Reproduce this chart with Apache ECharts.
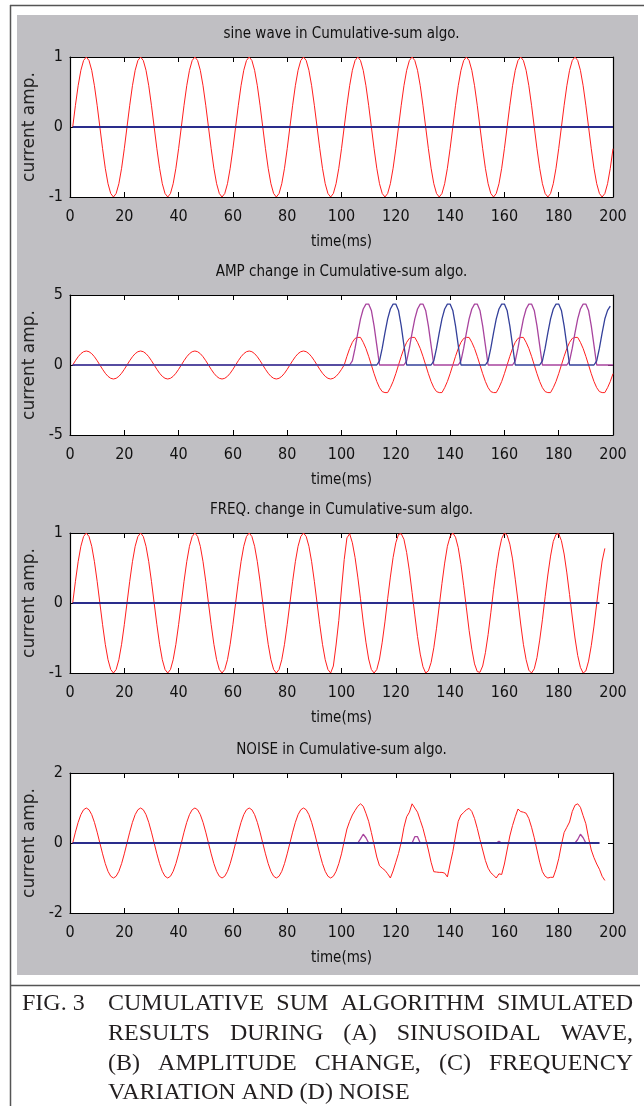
<!DOCTYPE html>
<html>
<head>
<meta charset="utf-8">
<script src="https://cdn.jsdelivr.net/npm/echarts@6/dist/echarts.min.js"></script>
<style>
  html, body { margin: 0; padding: 0; background: #fff; }
  #chart-container { width: 644px; height: 1106px; }
</style>
</head>
<body>
<div id="chart-container"></div>
<script>
// panel titles and axis setup
var panelTitles = [
  "sine wave in Cumulative-sum algo.",
  "AMP change in Cumulative-sum algo.",
  "FREQ. change in Cumulative-sum algo.",
  "NOISE in Cumulative-sum algo."
];
var xMin = 0, xMax = 200, xStep = 20;
var yMin = [-1, -5, -1, -2];
var yMax = [1, 5, 1, 2];
var yStep = [1, 5, 1, 2];
var xName = "time(ms)";
var yName = "current amp.";

// (a) sine wave, one sample per ms from t = 1
var sineRed = [
  0, 0.31, 0.59, 0.81, 0.95, 1, 0.95, 0.81, 0.59, 0.31, 0, -0.31, -0.59, -0.81, -0.95, -1, -0.95, -0.81, -0.59, -0.31,
  0, 0.31, 0.59, 0.81, 0.95, 1, 0.95, 0.81, 0.59, 0.31, 0, -0.31, -0.59, -0.81, -0.95, -1, -0.95, -0.81, -0.59, -0.31,
  0, 0.31, 0.59, 0.81, 0.95, 1, 0.95, 0.81, 0.59, 0.31, 0, -0.31, -0.59, -0.81, -0.95, -1, -0.95, -0.81, -0.59, -0.31,
  0, 0.31, 0.59, 0.81, 0.95, 1, 0.95, 0.81, 0.59, 0.31, 0, -0.31, -0.59, -0.81, -0.95, -1, -0.95, -0.81, -0.59, -0.31,
  0, 0.31, 0.59, 0.81, 0.95, 1, 0.95, 0.81, 0.59, 0.31, 0, -0.31, -0.59, -0.81, -0.95, -1, -0.95, -0.81, -0.59, -0.31,
  0, 0.31, 0.59, 0.81, 0.95, 1, 0.95, 0.81, 0.59, 0.31, 0, -0.31, -0.59, -0.81, -0.95, -1, -0.95, -0.81, -0.59, -0.31,
  0, 0.31, 0.59, 0.81, 0.95, 1, 0.95, 0.81, 0.59, 0.31, 0, -0.31, -0.59, -0.81, -0.95, -1, -0.95, -0.81, -0.59, -0.31,
  0, 0.31, 0.59, 0.81, 0.95, 1, 0.95, 0.81, 0.59, 0.31, 0, -0.31, -0.59, -0.81, -0.95, -1, -0.95, -0.81, -0.59, -0.31,
  0, 0.31, 0.59, 0.81, 0.95, 1, 0.95, 0.81, 0.59, 0.31, 0, -0.31, -0.59, -0.81, -0.95, -1, -0.95, -0.81, -0.59, -0.31,
  0, 0.31, 0.59, 0.81, 0.95, 1, 0.95, 0.81, 0.59, 0.31, 0, -0.31, -0.59, -0.81, -0.95, -1, -0.95, -0.81, -0.59, -0.31
];
var sineZero = [[1, 0], [200, 0]];

// (b) amplitude change
var ampRed = [
  0, 0.31, 0.59, 0.81, 0.95, 1, 0.95, 0.81, 0.59, 0.31, 0, -0.31, -0.59, -0.81, -0.95, -1, -0.95, -0.81, -0.59, -0.31,
  0, 0.31, 0.59, 0.81, 0.95, 1, 0.95, 0.81, 0.59, 0.31, 0, -0.31, -0.59, -0.81, -0.95, -1, -0.95, -0.81, -0.59, -0.31,
  0, 0.31, 0.59, 0.81, 0.95, 1, 0.95, 0.81, 0.59, 0.31, 0, -0.31, -0.59, -0.81, -0.95, -1, -0.95, -0.81, -0.59, -0.31,
  0, 0.31, 0.59, 0.81, 0.95, 1, 0.95, 0.81, 0.59, 0.31, 0, -0.31, -0.59, -0.81, -0.95, -1, -0.95, -0.81, -0.59, -0.31,
  0, 0.31, 0.59, 0.81, 0.95, 1, 0.95, 0.81, 0.59, 0.31, 0, -0.31, -0.59, -0.81, -0.95, -1, -0.95, -0.81, -0.59, -0.31,
  0, 0.62, 1.18, 1.62, 1.9, 1.97, 1.97, 1.62, 1.18, 0.62, 0, -0.62, -1.18, -1.62, -1.9, -1.97, -1.97, -1.62, -1.18, -0.62,
  0, 0.62, 1.18, 1.62, 1.9, 1.97, 1.97, 1.62, 1.18, 0.62, 0, -0.62, -1.18, -1.62, -1.9, -1.97, -1.97, -1.62, -1.18, -0.62,
  0, 0.62, 1.18, 1.62, 1.9, 1.97, 1.97, 1.62, 1.18, 0.62, 0, -0.62, -1.18, -1.62, -1.9, -1.97, -1.97, -1.62, -1.18, -0.62,
  0, 0.62, 1.18, 1.62, 1.9, 1.97, 1.97, 1.62, 1.18, 0.62, 0, -0.62, -1.18, -1.62, -1.9, -1.97, -1.97, -1.62, -1.18, -0.62,
  0, 0.62, 1.18, 1.62, 1.9, 1.97, 1.97, 1.62, 1.18, 0.62, 0, -0.62, -1.18, -1.62, -1.9, -1.97, -1.97, -1.62, -1.18, -0.62
];
var ampPos = [
  [1, 0], [103, 0], [104, 0.3], [105, 1.2], [106, 2.3], [107, 3.3], [108, 4], [109, 4.35], [110, 4.35], [111, 3.9], [112, 2.8], [113, 1.4], [114, 0],
  [123, 0], [124, 0.3], [125, 1.2], [126, 2.3], [127, 3.3], [128, 4], [129, 4.35], [130, 4.35], [131, 3.9], [132, 2.8], [133, 1.4], [134, 0],
  [143, 0], [144, 0.3], [145, 1.2], [146, 2.3], [147, 3.3], [148, 4], [149, 4.35], [150, 4.35], [151, 3.9], [152, 2.8], [153, 1.4], [154, 0],
  [163, 0], [164, 0.3], [165, 1.2], [166, 2.3], [167, 3.3], [168, 4], [169, 4.35], [170, 4.35], [171, 3.9], [172, 2.8], [173, 1.4], [174, 0],
  [183, 0], [184, 0.3], [185, 1.2], [186, 2.3], [187, 3.3], [188, 4], [189, 4.35], [190, 4.35], [191, 3.9], [192, 2.8], [193, 1.4], [194, 0],
  [200, 0]
];
var ampNeg = [
  [1, 0], [113, 0], [114, 0.3], [115, 1.2], [116, 2.3], [117, 3.3], [118, 4], [119, 4.35], [120, 4.35], [121, 3.9], [122, 2.8], [123, 1.4], [124, 0],
  [133, 0], [134, 0.3], [135, 1.2], [136, 2.3], [137, 3.3], [138, 4], [139, 4.35], [140, 4.35], [141, 3.9], [142, 2.8], [143, 1.4], [144, 0],
  [153, 0], [154, 0.3], [155, 1.2], [156, 2.3], [157, 3.3], [158, 4], [159, 4.35], [160, 4.35], [161, 3.9], [162, 2.8], [163, 1.4], [164, 0],
  [173, 0], [174, 0.3], [175, 1.2], [176, 2.3], [177, 3.3], [178, 4], [179, 4.35], [180, 4.35], [181, 3.9], [182, 2.8], [183, 1.4], [184, 0],
  [193, 0], [194, 0.3], [195, 1.2], [196, 2.3], [197, 3.3], [198, 3.9], [199, 4.2]
];

// (c) frequency change
var freqRed = [
  0, 0.31, 0.59, 0.81, 0.95, 1, 0.95, 0.81, 0.59, 0.31, 0, -0.31, -0.59, -0.81, -0.95, -1, -0.95, -0.81, -0.59, -0.31,
  0, 0.31, 0.59, 0.81, 0.95, 1, 0.95, 0.81, 0.59, 0.31, 0, -0.31, -0.59, -0.81, -0.95, -1, -0.95, -0.81, -0.59, -0.31,
  0, 0.31, 0.59, 0.81, 0.95, 1, 0.95, 0.81, 0.59, 0.31, 0, -0.31, -0.59, -0.81, -0.95, -1, -0.95, -0.81, -0.59, -0.31,
  0, 0.31, 0.59, 0.81, 0.95, 1, 0.95, 0.81, 0.59, 0.31, 0, -0.31, -0.59, -0.81, -0.95, -1, -0.95, -0.81, -0.59, -0.31,
  0, 0.31, 0.59, 0.81, 0.95, 1, 0.95, 0.81, 0.59, 0.31, 0, -0.31, -0.59, -0.81, -0.95, -1, -0.9, -0.6, -0.25,
  0.2, 0.62, 0.93, 0.99, 0.86, 0.65, 0.37, 0.06, -0.27, -0.56, -0.8, -0.95, -1, -0.95, -0.8, -0.56, -0.27, 0.06, 0.37, 0.65,
  0.86, 0.98, 0.99, 0.91, 0.72, 0.46, 0.15, -0.17, -0.48, -0.73, -0.91, -1, -0.97, -0.85, -0.64, -0.36, -0.04, 0.28, 0.57, 0.81,
  0.95, 1, 0.94, 0.79, 0.55, 0.25, -0.07, -0.39, -0.66, -0.87, -0.98, -0.99, -0.9, -0.71, -0.45, -0.14, 0.19, 0.49, 0.74, 0.92,
  1, 0.97, 0.84, 0.63, 0.34, 0.03, -0.3, -0.59, -0.81, -0.96, -1, -0.94, -0.78, -0.53, -0.24, 0.09, 0.4, 0.67, 0.88, 0.98,
  0.99, 0.89, 0.7, 0.43, 0.12, -0.2, -0.5, -0.75, -0.92, -1, -0.97, -0.83, -0.61, -0.33, -0.01, 0.31, 0.6, 0.78
];
var freqZero = [[1, 0], [195, 0]];

// (d) noise
var noiseRed = [
  0, 0.31, 0.59, 0.81, 0.95, 1, 0.95, 0.81, 0.59, 0.31, 0, -0.31, -0.59, -0.81, -0.95, -1, -0.95, -0.81, -0.59, -0.31,
  0, 0.31, 0.59, 0.81, 0.95, 1, 0.95, 0.81, 0.59, 0.31, 0, -0.31, -0.59, -0.81, -0.95, -1, -0.95, -0.81, -0.59, -0.31,
  0, 0.31, 0.59, 0.81, 0.95, 1, 0.95, 0.81, 0.59, 0.31, 0, -0.31, -0.59, -0.81, -0.95, -1, -0.95, -0.81, -0.59, -0.31,
  0, 0.31, 0.59, 0.81, 0.95, 1, 0.95, 0.81, 0.59, 0.31, 0, -0.31, -0.59, -0.81, -0.95, -1, -0.95, -0.81, -0.59, -0.31,
  0, 0.31, 0.59, 0.81, 0.95, 1, 0.95, 0.81, 0.59, 0.31, 0, -0.31, -0.59, -0.81, -0.95, -1, -0.95, -0.81, -0.59, -0.31,
  0.05, 0.4, 0.62, 0.8, 0.93, 1.05, 1.12, 1.05, 0.85, 0.62, 0.3, -0.05, -0.4, -0.65, -0.72, -0.78, -0.88, -1, -0.8, -0.55,
  -0.3, 0.02, 0.45, 0.75, 0.88, 1.12, 1, 0.88, 0.65, 0.42, 0.12, -0.2, -0.55, -0.82, -0.83, -0.84, -0.84, -0.86, -0.97, -0.6,
  -0.25, 0.2, 0.62, 0.8, 0.87, 0.95, 0.99, 0.9, 0.7, 0.42, 0.1, -0.2, -0.5, -0.72, -0.85, -0.92, -1, -0.88, -0.9, -0.6,
  -0.2, 0.2, 0.5, 0.75, 0.97, 0.9, 0.88, 0.85, 0.7, 0.45, 0.15, -0.2, -0.55, -0.82, -0.95, -1, -0.98, -0.98, -0.75, -0.45,
  -0.05, 0.3, 0.45, 0.6, 0.9, 1.08, 1.12, 1.02, 0.78, 0.55, 0.15, -0.2, -0.42, -0.6, -0.75, -0.95, -1.07
];
var noisePos = [
  [1, 0], [106, 0], [107, 0.12], [108, 0.25], [109, 0.15], [110, 0],
  [126, 0], [127, 0.18], [128, 0.18], [129, 0],
  [157, 0], [158, 0.05], [159, 0],
  [186, 0], [187, 0.1], [188, 0.25], [189, 0.15], [190, 0], [195, 0]
];
var noiseZero = [[1, 0], [195, 0]];

var captionLabel = "FIG. 3";
var captionLines = [
  "CUMULATIVE SUM ALGORITHM SIMULATED",
  "RESULTS DURING (A) SINUSOIDAL WAVE,",
  "(B) AMPLITUDE CHANGE, (C) FREQUENCY",
  "VARIATION AND (D) NOISE"
];

var RED = "#ff1f1f", NAVY = "#2a2d8c", PURPLE = "#a8449e", BLUE = "#34409a";
var narrow = "'Liberation Sans Narrow', 'Arial Narrow', 'DejaVu Sans Condensed', sans-serif";

var gridTops = [57, 295, 533, 773];
var plotLeft = 70, plotWidth = 543, plotHeight = 140;

function bySample(values) {
  return values.map(function (v, i) { return [i + 1, v]; });
}

var grids = [], xAxes = [], yAxes = [], graphics = [];

// grey figure background and frame
graphics.push({ type: "rect", z: -10, shape: { x: 17, y: 15, width: 621, height: 960 }, style: { fill: "#c0bfc3" } });
graphics.push({ type: "line", shape: { x1: 10.5, y1: 5, x2: 10.5, y2: 1106 }, style: { stroke: "#555", lineWidth: 1.5 } });
graphics.push({ type: "line", shape: { x1: 10, y1: 5.5, x2: 644, y2: 5.5 }, style: { stroke: "#555", lineWidth: 1.5 } });
graphics.push({ type: "line", shape: { x1: 10, y1: 985.5, x2: 640, y2: 985.5 }, style: { stroke: "#555", lineWidth: 1.5 } });

var tickStyle = { inside: true, length: 5, lineStyle: { color: "#000", width: 1 } };
var lineStyle = { onZero: false, lineStyle: { color: "#000", width: 1.2 } };

for (var i = 0; i < 4; i++) {
  grids.push({
    left: plotLeft, top: gridTops[i], width: plotWidth, height: plotHeight,
    show: true, backgroundColor: "#fff", borderWidth: 0, outerBoundsMode: "none"
  });
  xAxes.push({
    gridIndex: i, type: "value", min: xMin, max: xMax, interval: xStep,
    axisLine: lineStyle, axisTick: tickStyle, splitLine: { show: false },
    axisLabel: { margin: 12, fontSize: 16, color: "#111", fontFamily: narrow },
    name: xName, nameLocation: "middle", nameGap: 38,
    nameTextStyle: { fontSize: 15, color: "#111", fontFamily: narrow }
  });
  xAxes.push({
    gridIndex: i, type: "value", position: "top", min: xMin, max: xMax, interval: xStep,
    axisLine: lineStyle, axisTick: tickStyle, splitLine: { show: false },
    axisLabel: { show: false }
  });
  yAxes.push({
    gridIndex: i, type: "value", min: yMin[i], max: yMax[i], interval: yStep[i],
    axisLine: lineStyle, axisTick: tickStyle, splitLine: { show: false },
    axisLabel: { margin: 7, fontSize: 16, color: "#111", fontFamily: narrow },
    name: yName, nameLocation: "middle", nameRotate: 90, nameGap: 16,
    nameTextStyle: { fontSize: 17, color: "#222", fontFamily: "'DejaVu Sans', sans-serif" }
  });
  yAxes.push({
    gridIndex: i, type: "value", position: "right", min: yMin[i], max: yMax[i], interval: yStep[i],
    axisLine: lineStyle, axisTick: tickStyle, splitLine: { show: false },
    axisLabel: { show: false }
  });
  graphics.push({
    type: "text", x: plotLeft + plotWidth / 2, y: gridTops[i] - 23,
    style: { text: panelTitles[i], align: "center", verticalAlign: "middle", fontSize: 15, fill: "#111", fontFamily: narrow }
  });
}

function line(name, panel, data, color, width) {
  return {
    name: name, type: "line", xAxisIndex: panel * 2, yAxisIndex: panel * 2,
    data: data, showSymbol: false, animation: false,
    lineStyle: { color: color, width: width }
  };
}

var series = [
  line("sine", 0, bySample(sineRed), RED, 1),
  line("sine cusum", 0, sineZero, NAVY, 2),
  line("amp", 1, bySample(ampRed), RED, 1),
  line("amp cusum +", 1, ampPos, PURPLE, 1.3),
  line("amp cusum -", 1, ampNeg, BLUE, 1.3),
  line("freq", 2, bySample(freqRed), RED, 1),
  line("freq cusum", 2, freqZero, NAVY, 2),
  line("noise", 3, bySample(noiseRed), RED, 1),
  line("noise cusum +", 3, noisePos, PURPLE, 1.3),
  line("noise cusum", 3, noiseZero, NAVY, 2)
];

// caption, justified between two edges
var capSize = 24;
var capLeft = 108, capRight = 633, capY = [1004, 1034, 1064, 1093];
var measure = document.createElement("canvas").getContext("2d");
measure.font = capSize + "px 'Liberation Serif'";
var capStyle = { fontSize: capSize, fontFamily: "'Liberation Serif', serif", fill: "#231f20", verticalAlign: "middle" };
graphics.push({ type: "text", x: 22, y: capY[0], style: Object.assign({ text: captionLabel }, capStyle) });
captionLines.forEach(function (txt, li) {
  var words = txt.split(" ");
  if (li === captionLines.length - 1) {
    graphics.push({ type: "text", x: capLeft, y: capY[li], style: Object.assign({ text: txt }, capStyle) });
    return;
  }
  var total = 0;
  words.forEach(function (w) { total += measure.measureText(w).width; });
  var gap = (capRight - capLeft - total) / (words.length - 1);
  var x = capLeft;
  words.forEach(function (w) {
    graphics.push({ type: "text", x: x, y: capY[li], style: Object.assign({ text: w }, capStyle) });
    x += measure.measureText(w).width + gap;
  });
});

var dom = document.getElementById("chart-container");
var myChart = echarts.init(dom, null, { renderer: "canvas" });
var option = {
  backgroundColor: "#fff",
  animation: false,
  grid: grids,
  xAxis: xAxes,
  yAxis: yAxes,
  graphic: { elements: graphics },
  series: series
};
myChart.setOption(option);
window.addEventListener("resize", myChart.resize);
</script>
</body>
</html>
